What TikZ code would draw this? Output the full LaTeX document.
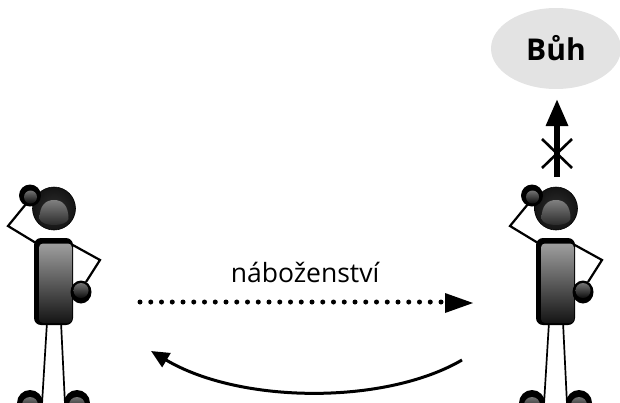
\documentclass[tikz,border=0pt]{standalone}
\usepackage{fontspec}
\setmainfont{Open Sans}
\usetikzlibrary{arrows.meta,shapes.geometric}
\definecolor{godfill}{HTML}{E3E3E3}
\tikzset{
  x=1pt,y=-1pt,
  limb/.style={draw=black,line width=2.2pt,line join=miter},
  leg/.style={draw=black,line width=1.7pt},
  headball/.style={inner color=black!82,outer color=black!92,draw=black,line width=0.6pt},
  shine/.style={top color=black!50,bottom color=black!86,draw=none},
  spark/.style={top color=black!55,bottom color=black!95,draw=none},
  bodyglow/.style={top color=black!38,middle color=black!78,bottom color=black!92},
  pics/person/.style={code={
    \draw[leg] (47,322) -- (42,404);
    \draw[leg] (61,322) -- (65,404);
    \draw[limb] (26,204) -- (8,226) -- (36,243);
    \draw[limb] (71,244) -- (100,260) -- (86,282);
    \path[headball] (54,208.5) circle (21.5);
    \path[shine] (39.5,219) .. controls (39.5,206) and (45,200) .. (54,200) .. controls (63,200) and (68.5,206) .. (68.5,219) .. controls (66,227) and (42,227) .. (39.5,219) -- cycle;
    \fill[black] (30,195.5) circle (11);
    \path[spark] (30.5,197) circle (6.5);
    \fill[black,rounded corners=7pt] (34,238) rectangle (73,325);
    \path[bodyglow,rounded corners=4pt] (39,243.5) rectangle (72,323);
    \fill[black] (81,292) ellipse (10.5 and 11.5);
    \path[spark] (81,290.5) circle (7.5);
    \fill[black] (30,403) circle (13);
    \path[spark] (30,405) circle (8);
    \fill[black] (77,403) circle (13);
    \path[spark] (77,405) circle (8);
  }}
}
\begin{document}
\begin{tikzpicture}
\useasboundingbox (0,0) rectangle (620,402);
\clip (0,0) rectangle (620,402);
\pic at (0,0) {person};
\pic at (502,0) {person};
\node[fill=godfill,ellipse,draw=none,minimum width=130pt,minimum height=81pt,inner sep=0pt,font=\bfseries\fontsize{30}{34}\selectfont] (god) at (556,48.5) {Bůh};
\coordinate (upfrom) at (557,177);
\coordinate (uptip) at (557,99);
\draw[line width=6pt,-{Triangle[length=27pt,width=21pt]}] (upfrom) -- (uptip);
\coordinate (xa) at (542,139);
\coordinate (xb) at (572,168);
\coordinate (xc) at (572,139);
\coordinate (xd) at (542,168);
\draw[line width=2.6pt] (xa) -- (xb);
\draw[line width=2.6pt] (xc) -- (xd);
\coordinate (dotfrom) at (140,302);
\coordinate (dotend) at (445,302);
\coordinate (dottip) at (473,303);
\draw[line width=5pt,line cap=round,dash pattern=on 0pt off 10.75pt] (dotfrom) -- (dotend);
\fill[black] (445,293) -- (dottip) -- (445,313) -- cycle;
\node[font=\fontsize{26.5}{30}\selectfont,anchor=base] (rel) at (305,282) {náboženství};
\coordinate (curvefrom) at (462,360);
\coordinate (curvetip) at (151,351);
\draw[line width=3pt,-{Triangle[length=18pt,width=16pt]}] (curvefrom) .. controls (385,405) and (240,404) .. (curvetip);
\end{tikzpicture}
\end{document}
